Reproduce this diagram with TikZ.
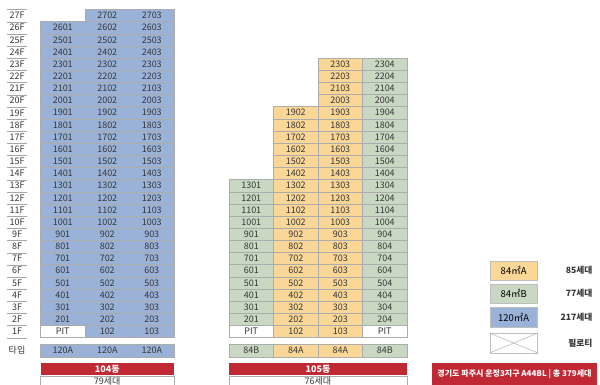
\documentclass[tikz,border=0pt]{standalone}
\usepackage{fontspec}
\setmainfont{Noto Sans CJK KR}
\usetikzlibrary{positioning}
\definecolor{aptA}{RGB}{250,215,150}
\definecolor{aptB}{RGB}{201,216,195}
\definecolor{aptC}{RGB}{154,178,216}
\definecolor{barred}{RGB}{192,40,52}
\definecolor{ink}{RGB}{55,55,55}

\begin{document}
\begin{tikzpicture}[x=1pt,y=-1pt,
  unit/.style={draw=gray!65,minimum width=44.5pt,minimum height=12.15pt,inner sep=0pt,font=\fontsize{9}{9}\selectfont,text=ink},
  pit/.style={unit,fill=white},
  floor/.style={minimum width=20pt,minimum height=12.15pt,inner sep=0pt,font=\fontsize{9}{9}\selectfont,text=ink},
  dong/.style={fill=barred,minimum height=12pt,inner sep=0pt,text=white,font=\fontsize{9}{9}\selectfont\bfseries},
  cnt/.style={draw=gray!65,inner sep=0pt,text=ink,font=\fontsize{9}{9}\selectfont,text depth=0pt},
  key/.style={draw=gray!50,minimum width=47.3pt,minimum height=19.4pt,inner sep=0pt,font=\fontsize{9.5}{9.5}\selectfont,text=black},
  keytxt/.style={anchor=east,font=\fontsize{8.7}{9}\selectfont\bfseries,text=ink}
]
\useasboundingbox (0,0) rectangle (600,385);

% floor labels
\foreach \f in {1,...,27}{
  \node[floor] (fl\f) at (17,{15.575+(27-\f)*12.15}) {\f F};
  \draw[gray!70] (fl\f.south west) -- (fl\f.south east);
}
\draw[gray!70] (fl27.north west) -- (fl27.north east);
\node[floor] (typ) at (17,350.5) {타입};

% 104dong
\foreach \f in {2,...,26}{
  \foreach \c in {1,2,3}{
    \node[unit,fill=aptC] (a\f-\c) at ({62.75+(\c-1)*44.5},{15.575+(27-\f)*12.15}) {\f0\c};
  }
}
\node[unit,fill=aptC] (a27-2) at (107.25,15.575) {2702};
\node[unit,fill=aptC] (a27-3) at (151.75,15.575) {2703};
\node[pit] (a1-1) at (62.75,331.475) {PIT};
\node[unit,fill=aptC] (a1-2) at (107.25,331.475) {102};
\node[unit,fill=aptC] (a1-3) at (151.75,331.475) {103};
\foreach \c in {1,2,3}{
  \node[unit,fill=aptC,minimum height=12.6pt] (at\c) at ({62.75+(\c-1)*44.5},350.5) {120A};
}
\node[dong,minimum width=133.5pt] (d104) at (107.25,369.3) {104동};
\node[cnt,minimum width=133.5pt,minimum height=16pt,below=0pt of d104] (n104) {};
\node[text=ink,font=\fontsize{9}{9}\selectfont] (n104t) at (107.25,380.8) {79세대};

% 105dong
\foreach \f in {2,...,13}{
  \node[unit,fill=aptB] (b\f-1) at (251.25,{15.575+(27-\f)*12.15}) {\f01};
}
\foreach \f in {2,...,19}{
  \node[unit,fill=aptA] (b\f-2) at (295.75,{15.575+(27-\f)*12.15}) {\f02};
}
\foreach \f in {2,...,23}{
  \node[unit,fill=aptA] (b\f-3) at (340.25,{15.575+(27-\f)*12.15}) {\f03};
  \node[unit,fill=aptB] (b\f-4) at (384.75,{15.575+(27-\f)*12.15}) {\f04};
}
\node[pit] (b1-1) at (251.25,331.475) {PIT};
\node[unit,fill=aptA] (b1-2) at (295.75,331.475) {102};
\node[unit,fill=aptA] (b1-3) at (340.25,331.475) {103};
\node[pit] (b1-4) at (384.75,331.475) {PIT};
\node[unit,fill=aptB,minimum height=12.6pt] (bt1) at (251.25,350.5) {84B};
\node[unit,fill=aptA,minimum height=12.6pt] (bt2) at (295.75,350.5) {84A};
\node[unit,fill=aptA,minimum height=12.6pt] (bt3) at (340.25,350.5) {84A};
\node[unit,fill=aptB,minimum height=12.6pt] (bt4) at (384.75,350.5) {84B};
\node[dong,minimum width=178pt] (d105) at (318,369.3) {105동};
\node[cnt,minimum width=178pt,minimum height=16pt,below=0pt of d105] (n105) {};
\node[text=ink,font=\fontsize{9}{9}\selectfont] (n105t) at (318,380.8) {76세대};

% legend
\node[key,fill=aptA] (kA) at (513.65,270.7) {84㎡A};
\node[key,fill=aptB] (kB) at (513.65,293.7) {84㎡B};
\node[key,fill=aptC] (kC) at (513.65,317) {120㎡A};
\node[key,fill=white] (kP) at (513.65,343) {};
\draw[gray!70] (kP.north west) -- (kP.south east) (kP.south west) -- (kP.north east);
\node[keytxt] (lA) at (596,270.7) {85세대};
\node[keytxt] (lB) at (596,293.7) {77세대};
\node[keytxt] (lC) at (596,317) {217세대};
\node[keytxt] (lP) at (596,343) {필로티};
\node[fill=barred,minimum width=165pt,minimum height=26pt,inner sep=0pt,anchor=north west] (site) at (432,362.7) {};
\node[text=white,font=\fontsize{8}{8}\selectfont\bfseries] (sitet) at (514.5,374) {경기도 파주시 운정3지구 A44BL | 총 379세대};
\end{tikzpicture}
\end{document}
